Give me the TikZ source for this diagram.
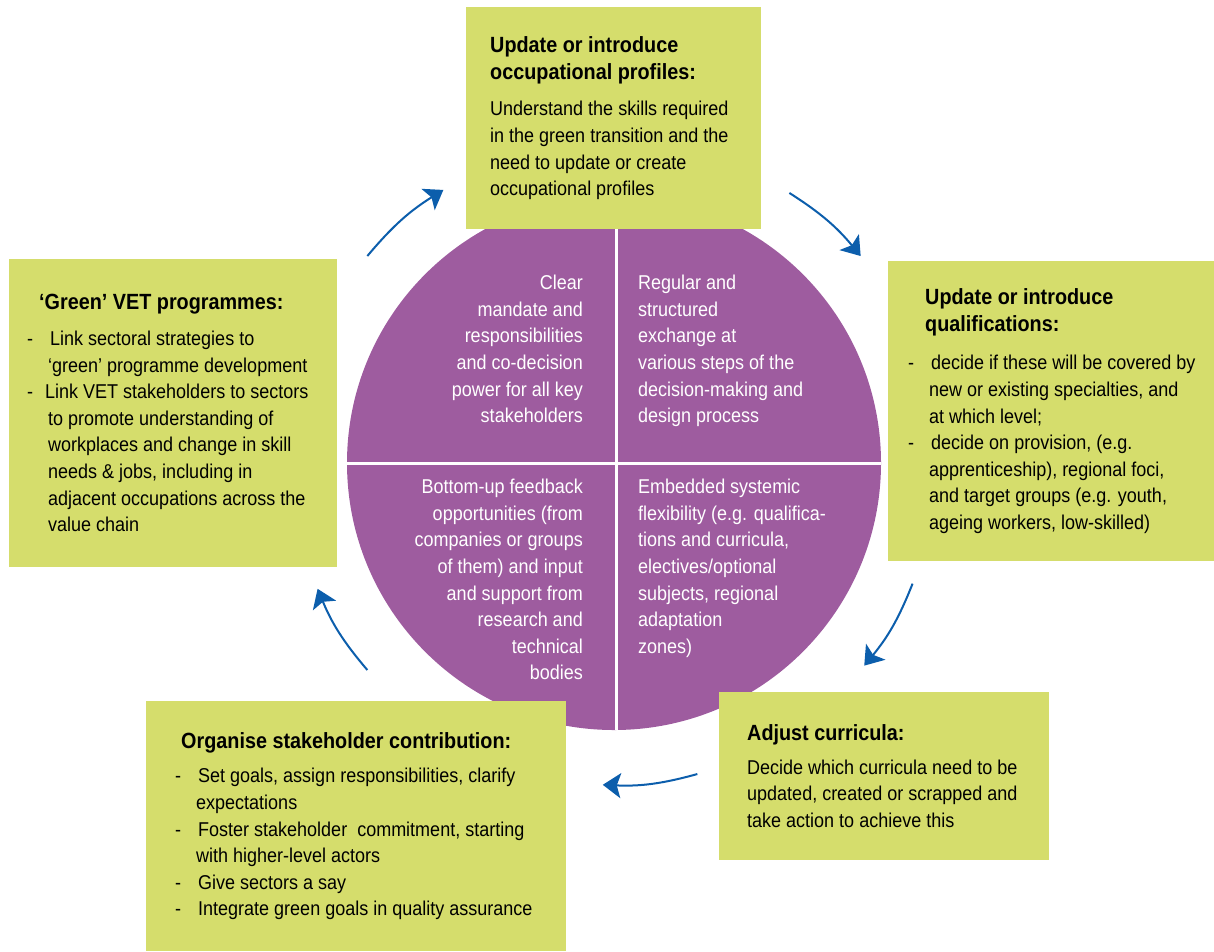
\documentclass[tikz,border=0pt]{standalone}
\usepackage{fontspec}
\setmainfont[FakeStretch=0.9]{Liberation Sans}
\usepackage{xcolor}
\usetikzlibrary{calc,arrows.meta}
\usetikzlibrary{positioning}
\definecolor{boxgreen}{RGB}{213,221,108}
\definecolor{hubpurple}{RGB}{158,92,159}
\definecolor{cycblue}{RGB}{12,94,172}
\newcommand{\hd}[1]{{\fontsize{22}{26.6}\selectfont\bfseries #1}}
\newcommand{\dsh}{\makebox[23pt][l]{-}}
\newcommand{\ind}{\hspace*{21pt}}
\tikzset{box/.style={fill=boxgreen, anchor=north west, inner sep=0pt},
txt/.style={align=left, inner sep=0pt, font=\fontsize{20}{26.6}\selectfont},
hubtxt/.style={text=white, inner sep=0pt, font=\fontsize{20}{26.6}\selectfont},
cyc/.style={draw=cycblue, line width=2pt, -{Stealth[length=18pt, width=25pt, inset=4pt]}}}

\begin{document}
\begin{tikzpicture}[x=1pt, y=1pt]
\useasboundingbox (0,0) rectangle (1214,-951);

%hub
\node[circle, fill=hubpurple, minimum size=534pt, inner sep=0pt] (hub) at (614,-463) {};
\draw[white, line width=3pt] ([xshift=2pt]hub.north) -- ([xshift=2pt]hub.south);
\draw[white, line width=3pt] (hub.west) -- (hub.east);
\node[hubtxt, align=right, anchor=north east] (mandate) at (583,-275) {Clear\\ mandate and\\ responsibilities\\ and co-decision\\ power for all key\\ stakeholders};
\node[hubtxt, align=left, anchor=north west] (exchange) at (638,-275) {Regular and\\ structured\\ exchange at\\ various steps of the\\ decision-making and\\ design process};
\node[hubtxt, align=right, anchor=north east] (feedback) at (583,-479) {Bottom-up feedback\\ opportunities (from\\ companies or groups\\ of them) and input\\ and support from\\ research and\\ technical\\ bodies};
\node[hubtxt, align=left, anchor=north west] (flex) at (638,-479) {Embedded systemic\\ flexibility (e.g. qualifica-\\ tions and curricula,\\ electives/optional\\ subjects, regional\\ adaptation\\ zones)};

%boxes
\node[box, minimum width=295pt, minimum height=222pt] (prof) at (466,-7) {};
\node[txt, right=24pt of prof.west] (proftxt) {\hd{Update or introduce}\\ \hd{occupational profiles:}\\[10pt]
Understand the skills required\\ in the green transition and the\\ need to update or create\\ occupational profiles};

\node[box, minimum width=328pt, minimum height=308pt] (prog) at (9,-259) {};
\node[txt, right=18pt of prog.west] (progtxt) {\hspace*{12pt}\hd{‘Green’ VET programmes:}\\[9pt]
\dsh Link sectoral strategies to\\ \ind ‘green’ programme development\\
\makebox[18pt][l]{-}Link VET stakeholders to sectors\\ \ind to promote understanding of\\ \ind workplaces and change in skill\\ \ind needs \& jobs, including in\\ \ind adjacent occupations across the\\ \ind value chain};

\node[box, minimum width=326pt, minimum height=300pt] (qual) at (888,-261) {};
\node[txt, right=20pt of qual.west] (qualtxt) {\hspace*{17pt}\hd{Update or introduce}\\ \hspace*{17pt}\hd{qualifications:}\\[12pt]
\dsh decide if these will be covered by\\ \ind new or existing specialties, and\\ \ind at which level;\\
\dsh decide on provision, (e.g.\\ \ind apprenticeship), regional foci,\\ \ind and target groups (e.g. youth,\\ \ind ageing workers, low-skilled)};

\node[box, minimum width=330pt, minimum height=168pt] (curr) at (719,-692) {};
\node[txt, right=28pt of curr.west] (currtxt) {\hd{Adjust curricula:}\\[7pt]
Decide which curricula need to be\\ updated, created or scrapped and\\ take action to achieve this};

\node[box, minimum width=420pt, minimum height=250pt] (stake) at (146,-701) {};
\node[txt, right=29pt of stake.west] (staketxt) {\hspace*{6pt}\hd{Organise stakeholder contribution:}\\[8pt]
\dsh Set goals, assign responsibilities, clarify\\ \ind expectations\\
\dsh Foster stakeholder\ \ commitment, starting\\ \ind with higher-level actors\\
\dsh Give sectors a say\\
\dsh Integrate green goals in quality assurance};

%cycle arrows
\foreach \s/\e [count=\i] in {140/122, 57/40, -22/-39, -75/-92, 220/203}
{\coordinate (s\i) at ($(hub)+(\s:322)$);
\coordinate (e\i) at ($(hub)+(\e:322)$);
\draw[cyc] (s\i) to[bend left=9] (e\i);}

\end{tikzpicture}
\end{document}
